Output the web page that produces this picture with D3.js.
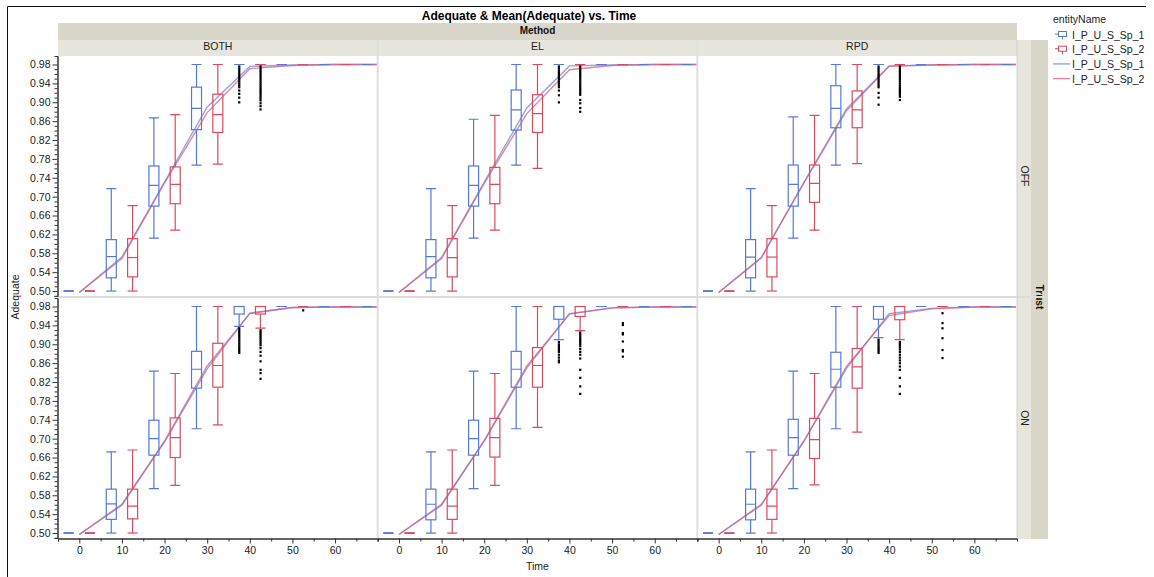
<!DOCTYPE html>
<html>
<head>
<meta charset="utf-8">
<script src="https://cdn.jsdelivr.net/npm/d3@7"></script>
<style>
  html, body { margin: 0; padding: 0; background: #fff; }
  svg { display: block; font-family: "Liberation Sans", Arial, sans-serif; }
</style>
</head>
<body>
<svg id="chart" width="1154" height="577"></svg>
<script>
// ---- data -------------------------------------------------------------
const methods = ["BOTH", "EL", "RPD"];
const trusts = ["OFF", "ON"];
const seriesNames = ["I_P_U_S_Sp_1", "I_P_U_S_Sp_2"];
const times = [0, 10, 20, 30, 40, 50, 60, 70];
const yTickLabels = [0.50, 0.54, 0.58, 0.62, 0.66, 0.70, 0.74, 0.78, 0.82, 0.86, 0.90, 0.94, 0.98];
const xTickLabels = [0, 10, 20, 30, 40, 50, 60];

// box statistics per time: [low whisker, q1, median, q3, high whisker]
const boxOFF_BOTH_Sp1 = [[0.50,0.50,0.50,0.50,0.50],[0.50,0.528,0.573,0.609,0.717],[0.612,0.680,0.724,0.765,0.867],[0.767,0.842,0.887,0.932,0.98],[0.98,0.98,0.98,0.98,0.98],[0.98,0.98,0.98,0.98,0.98],[0.98,0.98,0.98,0.98,0.98],[0.98,0.98,0.98,0.98,0.98]];
const boxOFF_BOTH_Sp2 = [[0.50,0.50,0.50,0.50,0.50],[0.50,0.530,0.571,0.611,0.681],[0.629,0.685,0.726,0.763,0.874],[0.769,0.836,0.874,0.917,0.98],[0.98,0.98,0.98,0.98,0.98],[0.98,0.98,0.98,0.98,0.98],[0.98,0.98,0.98,0.98,0.98],[0.98,0.98,0.98,0.98,0.98]];
const boxOFF_EL_Sp1 = [[0.50,0.50,0.50,0.50,0.50],[0.50,0.528,0.573,0.609,0.717],[0.612,0.680,0.724,0.765,0.864],[0.767,0.841,0.884,0.926,0.98],[0.98,0.98,0.98,0.98,0.98],[0.98,0.98,0.98,0.98,0.98],[0.98,0.98,0.98,0.98,0.98],[0.98,0.98,0.98,0.98,0.98]];
const boxOFF_EL_Sp2 = [[0.50,0.50,0.50,0.50,0.50],[0.50,0.530,0.571,0.611,0.681],[0.629,0.685,0.726,0.762,0.872],[0.760,0.836,0.876,0.916,0.98],[0.98,0.98,0.98,0.98,0.98],[0.98,0.98,0.98,0.98,0.98],[0.98,0.98,0.98,0.98,0.98],[0.98,0.98,0.98,0.98,0.98]];
const boxOFF_RPD_Sp1 = [[0.50,0.50,0.50,0.50,0.50],[0.50,0.528,0.572,0.609,0.717],[0.612,0.680,0.726,0.767,0.869],[0.767,0.846,0.887,0.935,0.98],[0.98,0.98,0.98,0.98,0.98],[0.98,0.98,0.98,0.98,0.98],[0.98,0.98,0.98,0.98,0.98],[0.98,0.98,0.98,0.98,0.98]];
const boxOFF_RPD_Sp2 = [[0.50,0.50,0.50,0.50,0.50],[0.50,0.530,0.572,0.611,0.681],[0.629,0.688,0.728,0.767,0.872],[0.770,0.846,0.884,0.924,0.98],[0.98,0.98,0.98,0.98,0.98],[0.98,0.98,0.98,0.98,0.98],[0.98,0.98,0.98,0.98,0.98],[0.98,0.98,0.98,0.98,0.98]];
const boxON_BOTH_Sp1 = [[0.50,0.50,0.50,0.50,0.50],[0.50,0.529,0.562,0.593,0.672],[0.594,0.665,0.700,0.739,0.843],[0.721,0.807,0.847,0.885,0.98],[0.938,0.964,0.98,0.98,0.98],[0.98,0.98,0.98,0.98,0.98],[0.98,0.98,0.98,0.98,0.98],[0.98,0.98,0.98,0.98,0.98]];
const boxON_BOTH_Sp2 = [[0.50,0.50,0.50,0.50,0.50],[0.50,0.530,0.557,0.593,0.676],[0.601,0.660,0.702,0.744,0.838],[0.729,0.809,0.855,0.902,0.98],[0.934,0.964,0.98,0.98,0.98],[0.98,0.98,0.98,0.98,0.98],[0.98,0.98,0.98,0.98,0.98],[0.98,0.98,0.98,0.98,0.98]];
const boxON_EL_Sp1 = [[0.50,0.50,0.50,0.50,0.50],[0.50,0.528,0.561,0.593,0.672],[0.594,0.665,0.700,0.739,0.843],[0.721,0.809,0.847,0.885,0.98],[0.910,0.953,0.98,0.98,0.98],[0.98,0.98,0.98,0.98,0.98],[0.98,0.98,0.98,0.98,0.98],[0.98,0.98,0.98,0.98,0.98]];
const boxON_EL_Sp2 = [[0.50,0.50,0.50,0.50,0.50],[0.50,0.529,0.557,0.593,0.676],[0.601,0.661,0.702,0.743,0.838],[0.724,0.809,0.855,0.893,0.98],[0.929,0.959,0.98,0.98,0.98],[0.98,0.98,0.98,0.98,0.98],[0.98,0.98,0.98,0.98,0.98],[0.98,0.98,0.98,0.98,0.98]];
const boxON_RPD_Sp1 = [[0.50,0.50,0.50,0.50,0.50],[0.50,0.528,0.561,0.593,0.672],[0.594,0.665,0.702,0.741,0.843],[0.721,0.809,0.847,0.883,0.98],[0.914,0.953,0.98,0.98,0.98],[0.98,0.98,0.98,0.98,0.98],[0.98,0.98,0.98,0.98,0.98],[0.98,0.98,0.98,0.98,0.98]];
const boxON_RPD_Sp2 = [[0.50,0.50,0.50,0.50,0.50],[0.50,0.529,0.557,0.593,0.676],[0.602,0.658,0.698,0.743,0.838],[0.714,0.807,0.852,0.891,0.98],[0.910,0.952,0.98,0.98,0.98],[0.98,0.98,0.98,0.98,0.98],[0.98,0.98,0.98,0.98,0.98],[0.98,0.98,0.98,0.98,0.98]];

// outlying observations: {time, series index, values}
const outOFF_BOTH = [
  {t: 40, s: 0, v: [0.976,0.972,0.968,0.964,0.960,0.956,0.952,0.948,0.944,0.940,0.936,0.932,0.925,0.918,0.910,0.900]},
  {t: 40, s: 1, v: [0.976,0.972,0.968,0.964,0.960,0.956,0.952,0.948,0.944,0.940,0.936,0.932,0.928,0.924,0.920,0.916,0.912,0.908,0.904,0.898,0.892,0.885]}
];
const outOFF_EL = [
  {t: 40, s: 0, v: [0.976,0.972,0.968,0.964,0.960,0.956,0.952,0.948,0.944,0.940,0.936,0.932,0.925,0.915,0.900]},
  {t: 40, s: 1, v: [0.976,0.972,0.968,0.964,0.960,0.956,0.952,0.948,0.944,0.940,0.936,0.932,0.928,0.924,0.920,0.916,0.905,0.898,0.888,0.880]}
];
const outOFF_RPD = [
  {t: 40, s: 0, v: [0.976,0.972,0.968,0.964,0.960,0.956,0.952,0.948,0.944,0.940,0.936,0.932,0.920,0.910,0.895]},
  {t: 40, s: 1, v: [0.976,0.972,0.968,0.964,0.960,0.956,0.952,0.948,0.944,0.940,0.936,0.932,0.928,0.924,0.920,0.916,0.912,0.905]}
];
const outON_BOTH = [
  {t: 40, s: 0, v: [0.934,0.930,0.926,0.922,0.918,0.914,0.910,0.906,0.902,0.898,0.894,0.890,0.886,0.882]},
  {t: 40, s: 1, v: [0.930,0.926,0.922,0.918,0.914,0.910,0.906,0.902,0.898,0.892,0.884,0.876,0.864,0.846,0.839,0.827]},
  {t: 50, s: 1, v: [0.972]}
];
const outON_EL = [
  {t: 40, s: 0, v: [0.905,0.900,0.896,0.892,0.888,0.884,0.878,0.872,0.866,0.862]},
  {t: 40, s: 1, v: [0.925,0.921,0.917,0.913,0.909,0.905,0.901,0.896,0.890,0.884,0.878,0.870,0.846,0.829,0.811,0.795]},
  {t: 50, s: 1, v: [0.945,0.941,0.924,0.921,0.906,0.888,0.885,0.874]}
];
const outON_RPD = [
  {t: 40, s: 0, v: [0.910,0.906,0.902,0.898,0.894,0.890,0.886,0.882]},
  {t: 40, s: 1, v: [0.905,0.901,0.897,0.893,0.889,0.884,0.878,0.872,0.866,0.860,0.853,0.846,0.829,0.811,0.795]},
  {t: 50, s: 1, v: [0.966,0.945,0.934,0.913,0.888,0.871]}
];

// mean of Adequate per time
const meanOFF_BOTH_Sp1 = [0.497, 0.572, 0.731, 0.890, 0.976, 0.979, 0.980, 0.980];
const meanOFF_BOTH_Sp2 = [0.497, 0.569, 0.729, 0.878, 0.971, 0.978, 0.980, 0.980];
const meanOFF_EL_Sp1 = [0.497, 0.571, 0.731, 0.888, 0.977, 0.979, 0.980, 0.980];
const meanOFF_EL_Sp2 = [0.497, 0.569, 0.728, 0.876, 0.969, 0.978, 0.980, 0.980];
const meanOFF_RPD_Sp1 = [0.497, 0.571, 0.730, 0.886, 0.977, 0.979, 0.980, 0.980];
const meanOFF_RPD_Sp2 = [0.497, 0.570, 0.729, 0.882, 0.976, 0.979, 0.980, 0.980];
const meanON_BOTH_Sp1 = [0.497, 0.561, 0.693, 0.848, 0.966, 0.978, 0.979, 0.979];
const meanON_BOTH_Sp2 = [0.497, 0.559, 0.695, 0.854, 0.965, 0.978, 0.979, 0.979];
const meanON_EL_Sp1 = [0.497, 0.561, 0.695, 0.850, 0.965, 0.977, 0.979, 0.979];
const meanON_EL_Sp2 = [0.497, 0.559, 0.696, 0.854, 0.964, 0.977, 0.979, 0.979];
const meanON_RPD_Sp1 = [0.497, 0.561, 0.694, 0.849, 0.965, 0.976, 0.979, 0.979];
const meanON_RPD_Sp2 = [0.497, 0.559, 0.695, 0.853, 0.961, 0.975, 0.979, 0.979];

const panelData = {
  OFF: {
    BOTH: {box: [boxOFF_BOTH_Sp1, boxOFF_BOTH_Sp2], mean: [meanOFF_BOTH_Sp1, meanOFF_BOTH_Sp2], out: outOFF_BOTH},
    EL:   {box: [boxOFF_EL_Sp1, boxOFF_EL_Sp2],     mean: [meanOFF_EL_Sp1, meanOFF_EL_Sp2],     out: outOFF_EL},
    RPD:  {box: [boxOFF_RPD_Sp1, boxOFF_RPD_Sp2],   mean: [meanOFF_RPD_Sp1, meanOFF_RPD_Sp2],   out: outOFF_RPD}
  },
  ON: {
    BOTH: {box: [boxON_BOTH_Sp1, boxON_BOTH_Sp2], mean: [meanON_BOTH_Sp1, meanON_BOTH_Sp2], out: outON_BOTH},
    EL:   {box: [boxON_EL_Sp1, boxON_EL_Sp2],     mean: [meanON_EL_Sp1, meanON_EL_Sp2],     out: outON_EL},
    RPD:  {box: [boxON_RPD_Sp1, boxON_RPD_Sp2],   mean: [meanON_RPD_Sp1, meanON_RPD_Sp2],   out: outON_RPD}
  }
};

// ---- layout & style -----------------------------------------------------
const boxColors = ["#5479de", "#dc4a5e"];
const lineColors = ["rgba(120,148,232,0.85)", "rgba(214,96,124,0.75)"];
const dodge = [-2.5, 2.5];
const plotL = 58, plotR = 1017;
const colW = (plotR - plotL) / 3;
const rowTop = [56, 298], rowH = 240;
const boxW = 10;
const textCol = "#222";

const svg = d3.select("#chart");

// outer frame
svg.append("path").attr("d", "M7.5,577 V6.5 H1146").attr("fill", "none").attr("stroke", "#111").attr("stroke-width", 1);

// title
svg.append("text").attr("x", 529).attr("y", 20).attr("text-anchor", "middle")
  .attr("font-size", 12).attr("font-weight", "bold").attr("fill", "#000")
  .text("Adequate & Mean(Adequate) vs. Time");

// column header bands
svg.append("rect").attr("x", plotL).attr("y", 23).attr("width", plotR - plotL).attr("height", 17).attr("fill", "#d9d7c9");
svg.append("text").attr("x", (plotL + plotR) / 2).attr("y", 34).attr("text-anchor", "middle")
  .attr("font-size", 10).attr("font-weight", "bold").attr("fill", "#111").text("Method");
methods.forEach((m, i) => {
  const x0 = plotL + i * colW;
  svg.append("rect").attr("x", x0).attr("y", 40).attr("width", colW).attr("height", 16).attr("fill", "#e7e6dd");
  svg.append("text").attr("x", x0 + colW / 2).attr("y", 50).attr("text-anchor", "middle")
    .attr("font-size", 10.5).attr("fill", textCol).text(m);
});

// row header strips
svg.append("rect").attr("x", plotR).attr("y", 40).attr("width", 14).attr("height", 499).attr("fill", "#e7e6dd");
svg.append("rect").attr("x", plotR + 14).attr("y", 40).attr("width", 17).attr("height", 499).attr("fill", "#d9d7c9");
trusts.forEach((tr, r) => {
  const cy = rowTop[r] + rowH / 2;
  svg.append("text").attr("transform", `translate(${plotR + 4},${cy}) rotate(90)`)
    .attr("text-anchor", "middle").attr("font-size", 10.5).attr("fill", textCol).text(tr);
});
svg.append("text").attr("transform", `translate(${plotR + 19},297) rotate(90)`)
  .attr("text-anchor", "middle").attr("font-size", 10).attr("font-weight", "bold").attr("fill", "#111").text("Trust");

// panel separators
svg.append("line").attr("x1", plotL).attr("x2", plotR + 31).attr("y1", 297).attr("y2", 297)
  .attr("stroke", "#dcdcdc").attr("stroke-width", 2);
[1, 2].forEach(i => {
  const x = plotL + i * colW;
  svg.append("line").attr("x1", x).attr("x2", x).attr("y1", 40).attr("y2", 538)
    .attr("stroke", "#dedede").attr("stroke-width", 2);
});
svg.append("line").attr("x1", plotR).attr("x2", plotR).attr("y1", 40).attr("y2", 538)
  .attr("stroke", "#d0d0d0").attr("stroke-width", 1);

const defs = svg.append("defs");

trusts.forEach((tr, r) => {
  const y = d3.scaleLinear().domain([0.4895, 0.998]).range([rowTop[r] + rowH, rowTop[r]]);

  methods.forEach((m, c) => {
    const x0 = plotL + c * colW;
    const x = d3.scaleLinear().domain([-5, 70]).range([x0, x0 + colW]);
    const clipId = `clip-${tr}-${m}`;
    defs.append("clipPath").attr("id", clipId).append("rect")
      .attr("x", x0 + 1).attr("y", rowTop[r]).attr("width", colW - 2).attr("height", rowH);

    const g = svg.append("g").attr("clip-path", `url(#${clipId})`);
    const pd = panelData[tr][m];

    // mean lines
    const line = d3.line().x((d, i) => x(times[i])).y(d => y(d));
    pd.mean.forEach((arr, s) => {
      g.append("path").datum(arr).attr("d", line).attr("fill", "none")
        .attr("stroke", lineColors[s]).attr("stroke-width", 1.4);
    });

    // box plots
    pd.box.forEach((arr, s) => {
      arr.forEach((b, i) => {
        const cx = x(times[i] + dodge[s]);
        const [lo, q1, med, q3, hi] = b;
        const bg = g.append("g").attr("stroke", boxColors[s]).attr("stroke-width", 1.2).attr("fill", "none");
        bg.append("line").attr("x1", cx).attr("x2", cx).attr("y1", y(hi)).attr("y2", y(q3));
        bg.append("line").attr("x1", cx).attr("x2", cx).attr("y1", y(q1)).attr("y2", y(lo));
        bg.append("line").attr("x1", cx - boxW / 2).attr("x2", cx + boxW / 2).attr("y1", y(hi)).attr("y2", y(hi));
        bg.append("line").attr("x1", cx - boxW / 2).attr("x2", cx + boxW / 2).attr("y1", y(lo)).attr("y2", y(lo));
        if (q3 > q1) {
          bg.append("rect").attr("x", cx - boxW / 2).attr("y", y(q3)).attr("width", boxW).attr("height", y(q1) - y(q3));
        }
        bg.append("line").attr("x1", cx - boxW / 2).attr("x2", cx + boxW / 2).attr("y1", y(med)).attr("y2", y(med));
      });
    });

    // outliers
    pd.out.forEach(o => {
      const cx = x(o.t + dodge[o.s]);
      g.selectAll(null).data(o.v).enter().append("rect")
        .attr("x", cx - 1).attr("y", d => y(d) - 1).attr("width", 2.2).attr("height", 2.2).attr("fill", "#000");
    });

    // x axis on the bottom row
    if (r === 1) {
      const xa = svg.append("g").attr("transform", `translate(0,${rowTop[r] + rowH + 0.5})`);
      xa.call(d3.axisBottom(x).tickValues(xTickLabels).tickSize(5).tickSizeOuter(0).tickPadding(3));
      xa.append("g").call(d3.axisBottom(x).tickValues([-5, 5, 15, 25, 35, 45, 55, 65]).tickSize(3).tickFormat(""));
      xa.selectAll(".domain").attr("stroke", "#333");
      xa.selectAll(".tick line").attr("stroke", "#333");
      xa.selectAll("text").attr("font-size", 10.5).attr("fill", textCol)
        .attr("font-family", "Liberation Sans, Arial, sans-serif");
    }
  });

  // y axis per row
  const ya = svg.append("g").attr("transform", `translate(${plotL - 0.5},0)`);
  ya.call(d3.axisLeft(y).tickValues(yTickLabels).tickFormat(d3.format(".2f")).tickSize(5).tickSizeOuter(0).tickPadding(2));
  const minor = d3.range(49, 99).map(v => v / 100).filter(v => !yTickLabels.some(t => Math.abs(t - v) < 1e-6));
  ya.append("g").call(d3.axisLeft(y).tickValues(minor).tickSize(3).tickFormat(""));
  ya.selectAll(".domain").attr("stroke", "#333");
  ya.selectAll(".tick line").attr("stroke", "#333");
  ya.selectAll("text").attr("font-size", 10.5).attr("fill", textCol)
    .attr("font-family", "Liberation Sans, Arial, sans-serif");
});

// axis titles
svg.append("text").attr("x", (plotL + plotR) / 2).attr("y", 570).attr("text-anchor", "middle")
  .attr("font-size", 10.5).attr("fill", textCol).text("Time");
svg.append("text").attr("transform", "translate(19,297) rotate(-90)").attr("text-anchor", "middle")
  .attr("font-size", 10.5).attr("fill", textCol).text("Adequate");

// legend
const lg = svg.append("g");
lg.append("text").attr("x", 1053).attr("y", 23).attr("font-size", 10.5).attr("fill", textCol).text("entityName");
seriesNames.forEach((name, s) => {
  const cy = 34.5 + s * 14.7;
  const ig = lg.append("g").attr("stroke", boxColors[s]).attr("stroke-width", 1).attr("fill", "none");
  ig.append("rect").attr("x", 1058.5).attr("y", cy - 3).attr("width", 8).attr("height", 5);
  ig.append("line").attr("x1", 1062.5).attr("x2", 1062.5).attr("y1", cy + 2).attr("y2", cy + 5);
  ig.append("line").attr("x1", 1055).attr("x2", 1058.5).attr("y1", cy - 0.5).attr("y2", cy - 0.5);
  lg.append("text").attr("x", 1072).attr("y", cy + 4).attr("font-size", 10.5).attr("fill", textCol).text(name);
});
seriesNames.forEach((name, s) => {
  const cy = 34.5 + (s + 2) * 14.7;
  lg.append("line").attr("x1", 1053).attr("x2", 1070).attr("y1", cy).attr("y2", cy)
    .attr("stroke", lineColors[s]).attr("stroke-width", 1.4);
  lg.append("text").attr("x", 1072).attr("y", cy + 4).attr("font-size", 10.5).attr("fill", textCol).text(name);
});
</script>
</body>
</html>
